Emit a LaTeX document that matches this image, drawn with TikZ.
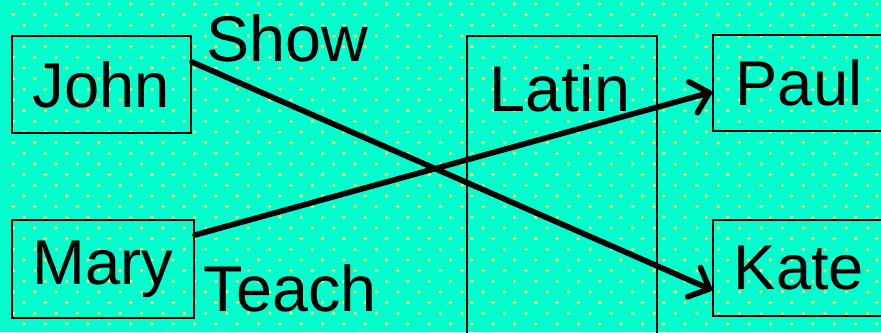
\documentclass[tikz,border=0pt]{standalone}
\usepackage{fontspec}
\setmainfont{Liberation Sans}
\usetikzlibrary{arrows.meta}
\definecolor{bgcol}{RGB}{0,255,204}
\definecolor{dotcol}{RGB}{225,250,110}
\definecolor{inkcol}{RGB}{0,0,0}
\tikzset{
  wordbox/.style={draw=inkcol, line width=1.4pt, inner sep=0pt,
    font=\fontsize{45}{48}\selectfont},
  word/.style={inkcol, inner sep=0pt, font=\fontsize{46}{48}\selectfont},
  link/.style={inkcol, line width=4pt, line cap=round,
    -{Straight Barb[length=0.42cm, width=0.8cm, line width=4pt, round]}}
}
\begin{document}
\begin{tikzpicture}

  % --- background with staggered dots -------------------------------------
  \useasboundingbox (0,0) rectangle (22.025,-8.3);
  \fill[bgcol] (0,0) rectangle (22.025,-8.3);
  \foreach \y in {0.1,0.633,...,8.4}
    \foreach \x in {0.6,1.133,...,22.1}
      \fill[dotcol] (\x,-\y) circle (0.048);
  \foreach \y in {0.367,0.9,...,8.4}
    \foreach \x in {0.333,0.867,...,22.1}
      \fill[dotcol] (\x,-\y) circle (0.048);

  % --- subjects on the left -----------------------------------------------
  \node[wordbox, minimum width=4.475cm, minimum height=2.425cm] (john) at (2.5375,-2.1125) {John};
  \node[wordbox, minimum width=4.55cm, minimum height=2.45cm] (mary) at (2.575,-6.725) {Mary};

  % --- the shared object, box runs off the bottom -------------------------
  \node[wordbox, minimum width=4.75cm, minimum height=7.6cm] (latin) at (14.05,-4.7) {};
  \node[word] (latinlbl) at (14.0,-2.2) {Latin};

  % --- recipients on the right, boxes run off the right edge -------------
  \node[wordbox, minimum width=4.3cm, minimum height=2.4cm] (paul) at (19.975,-2.075) {Paul};
  \node[wordbox, minimum width=4.3cm, minimum height=2.4cm] (kate) at (19.975,-6.7) {Kate};

  % --- verbs --------------------------------------------------------------
  \node[word] (show) at (7.18,-0.95) {Show};
  \node[word] (teach) at (7.25,-7.2) {Teach};

  % --- crossing arrows ----------------------------------------------------
  \draw[link] ([yshift=0.5625cm]john.east) -- ([yshift=-0.55cm]kate.west);
  \draw[link] ([yshift=0.85cm]mary.east) -- ([yshift=-0.225cm]paul.west);

\end{tikzpicture}
\end{document}
